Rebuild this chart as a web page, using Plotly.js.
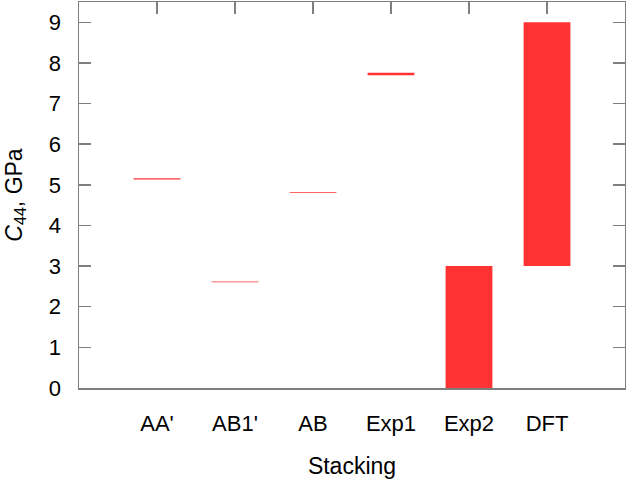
<!DOCTYPE html>
<html>
<head>
<meta charset="utf-8">
<script src="https://cdn.plot.ly/plotly-3.0.1.min.js"></script>
<style>html,body{margin:0;padding:0;background:#fff;}#chart{width:626px;height:487px;}</style>
</head>
<body>
<div id="chart"></div>
<script>
const categories = ["AA'", "AB1'", "AB", "Exp1", "Exp2", "DFT"];
const lowValues  = [5.13, 2.60, 4.80, 7.70, 0.0, 3.0];
const highValues = [5.16, 2.62, 4.82, 7.76, 3.0, 9.0];
const yTicks = [0, 1, 2, 3, 4, 5, 6, 7, 8, 9];

const positions = categories.map((c, i) => i);
const heights = highValues.map((h, i) => h - lowValues[i]);

const font = "Liberation Sans, Arial, sans-serif";
const axisColor = "#7f7f7f";

const traces = [{
  type: "bar",
  x: positions,
  y: heights,
  base: lowValues,
  width: 0.6,
  marker: {color: "#ff3333", line: {width: 0}},
  hoverinfo: "skip",
  showlegend: false
}, {
  type: "scatter",
  mode: "markers",
  x: positions,
  y: lowValues,
  xaxis: "x2",
  marker: {opacity: 0},
  hoverinfo: "skip",
  showlegend: false
}];

const layout = {
  width: 626, height: 487,
  margin: {l: 79, r: 1, t: 2, b: 99},
  paper_bgcolor: "#fff", plot_bgcolor: "#fff",
  font: {family: font, color: "#000", size: 20},
  showlegend: false,
  xaxis: {
    range: [-1, 6],
    tickvals: positions,
    ticktext: categories,
    ticks: "",
    showgrid: false, zeroline: false,
    showline: true, linecolor: axisColor, linewidth: 1.5,
    tickfont: {size: 22, family: font},
    ticklabelstandoff: 15,
    title: {text: "Stacking", font: {size: 23, family: font}, standoff: 23}
  },
  xaxis2: {
    overlaying: "x",
    side: "top",
    range: [-1, 6],
    tickvals: positions,
    ticks: "inside", ticklen: 12, tickwidth: 1.5, tickcolor: axisColor,
    showticklabels: false,
    showgrid: false, zeroline: false,
    showline: true, linecolor: axisColor, linewidth: 1.5
  },
  yaxis: {
    range: [0, 9.5],
    tickvals: yTicks,
    ticks: "inside", ticklen: 12, tickwidth: 1.5, tickcolor: axisColor,
    mirror: "ticks",
    showgrid: false, zeroline: false,
    showline: true, linecolor: axisColor, linewidth: 1.5,
    tickfont: {size: 22, family: font},
    ticklabelstandoff: 12,
    title: {text: "<i>C</i><sub>44</sub>, GPa", font: {size: 23, family: font}, standoff: 20}
  }
};

Plotly.newPlot("chart", traces, layout, {displayModeBar: false, staticPlot: true});
</script>
</body>
</html>
